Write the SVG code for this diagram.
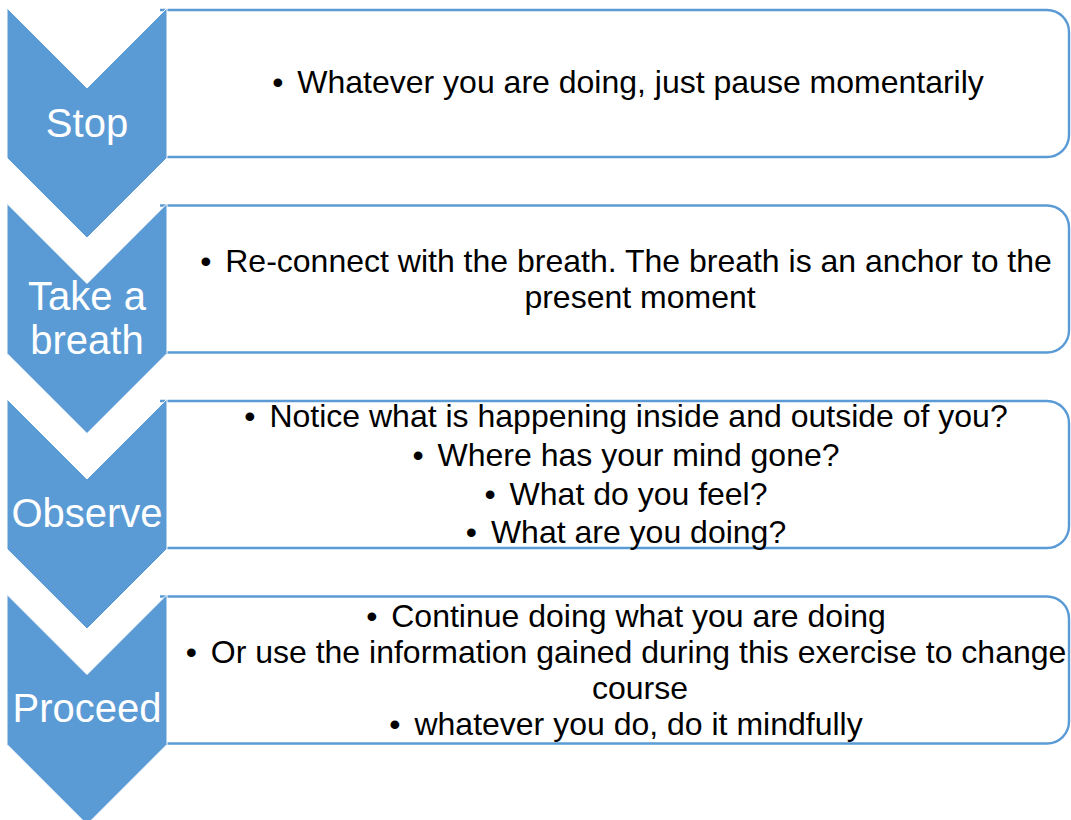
<svg xmlns="http://www.w3.org/2000/svg" width="1071" height="820" viewBox="0 0 1071 820">
<style>
.chev{fill:#5B9BD5;stroke:#FFFFFF;stroke-width:1}
.box{fill:#FFFFFF;stroke:#5B9BD5;stroke-width:2.4}
.lbl{font-family:"Liberation Sans",Arial,sans-serif;font-size:40px;fill:#FFFFFF;text-anchor:middle}
.txt{font-family:"Liberation Sans",Arial,sans-serif;font-size:32px;fill:#000000;text-anchor:middle}
</style>
<rect width="1071" height="820" fill="#FFFFFF"/>
<g id="connectors"></g>
<g id="step-stop">
<path class="box" d="M160,10 H1047 A22,22 0 0 1 1069,32 V135 A22,22 0 0 1 1047,157 H160"/>
<polygon class="chev" points="7,8 87,88 167,8 167,158 87,238 7,158"/>
<text class="lbl" x="87" y="137">Stop</text>
<text class="txt" x="628" y="93">•<tspan dx="5"> Whatever you are doing, just pause momentarily</tspan></text>
</g>
<g id="step-breath">
<path class="box" d="M160,205.5 H1047 A22,22 0 0 1 1069,227.5 V330.5 A22,22 0 0 1 1047,352.5 H160"/>
<polygon class="chev" points="7,203.5 87,283.5 167,203.5 167,353.5 87,433.5 7,353.5"/>
<text class="lbl" x="87" y="310">Take a</text>
<text class="lbl" x="87" y="354">breath</text>
<text class="txt" x="626" y="272">•<tspan dx="5"> Re-connect with the breath. The breath is an anchor to the</tspan></text>
<text class="txt" x="640" y="308">present moment</text>
</g>
<g id="step-observe">
<path class="box" d="M160,401 H1047 A22,22 0 0 1 1069,423 V526 A22,22 0 0 1 1047,548 H160"/>
<polygon class="chev" points="7,399 87,479 167,399 167,549 87,629 7,549"/>
<text class="lbl" x="87" y="527">Observe</text>
<text class="txt" x="626" y="427">•<tspan dx="5"> Notice what is happening inside and outside of you?</tspan></text>
<text class="txt" x="626" y="466">•<tspan dx="5"> Where has your mind gone?</tspan></text>
<text class="txt" x="626" y="505">•<tspan dx="5"> What do you feel?</tspan></text>
<text class="txt" x="626" y="543">•<tspan dx="5"> What are you doing?</tspan></text>
</g>
<g id="step-proceed">
<path class="box" d="M160,596.5 H1047 A22,22 0 0 1 1069,618.5 V721.5 A22,22 0 0 1 1047,743.5 H160"/>
<polygon class="chev" points="7,594.5 87,674.5 167,594.5 167,744.5 87,824.5 7,744.5"/>
<text class="lbl" x="87" y="722">Proceed</text>
<text class="txt" x="626" y="627">•<tspan dx="5"> Continue doing what you are doing</tspan></text>
<text class="txt" x="626" y="663">•<tspan dx="5"> Or use the information gained during this exercise to change</tspan></text>
<text class="txt" x="640" y="699">course</text>
<text class="txt" x="626" y="735">•<tspan dx="5"> whatever you do, do it mindfully</tspan></text>
</g>
</svg>
